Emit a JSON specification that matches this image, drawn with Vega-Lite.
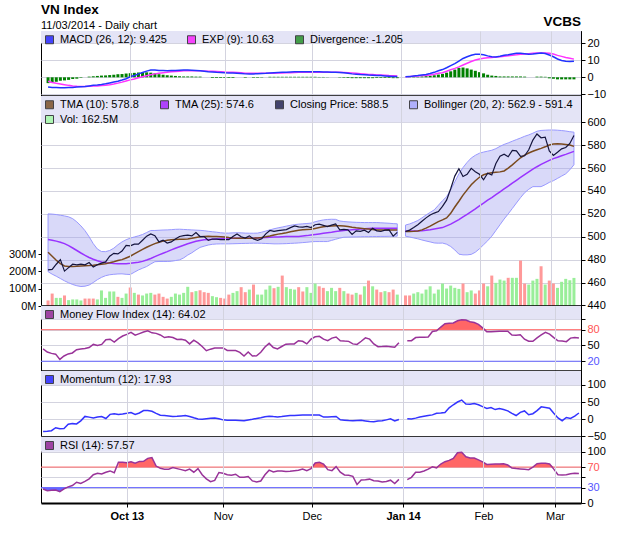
{
"$schema":"https://vega.github.io/schema/vega-lite/v6.json",
"padding":{"left":7,"top":3,"right":5,"bottom":5},
"title":{"text":"VN Index","subtitle":"11/03/2014 - Daily chart","anchor":"start","frame":"group","fontSize":13.5,"fontWeight":"bold","font":"Liberation Sans","color":"#000","subtitleFont":"Liberation Sans","subtitleFontSize":11,"subtitleColor":"#000","subtitlePadding":3,"offset":-16.5},
"spacing":0,
"bounds":"flush",
"resolve":{"scale":{"x":"independent","y":"independent","color":"independent"},"axis":{"x":"independent","y":"independent"},"legend":{"color":"independent"}},
"datasets":{"d":[
{"i":0,"c":471,"t10":486.5,"t25":497.6,"bu":520,"bl":469.5,"v":32,"up":0,"m":-5.7,"e":-2.3,"dv":-3.4,"mf":43.4,"mo":-35.6,"rs":27.3,"rsl":27.3},
{"i":1,"c":471.5,"t10":483,"t25":497,"bu":519.8,"bl":467.3,"v":72,"up":0,"m":-5.9,"e":-3.0,"dv":-3.2,"mf":37.5,"mo":-35,"rs":24,"rsl":24},
{"i":2,"c":476,"t10":479.5,"t25":496.2,"bu":519.4,"bl":465.5,"v":47,"up":1,"m":-6.0,"e":-3.5,"dv":-2.6,"mf":35,"mo":-33.5,"rs":25,"rsl":25},
{"i":3,"c":480,"t10":476.5,"t25":495.2,"bu":518.8,"bl":463.5,"v":47,"up":1,"m":-6.1,"e":-3.9,"dv":-2.0,"mf":33.5,"mo":-25,"rs":25.3,"rsl":25.3},
{"i":4,"c":470,"t10":474.5,"t25":494,"bu":518.2,"bl":461.5,"v":61,"up":0,"m":-6.1,"e":-4.3,"dv":-1.8,"mf":23.5,"mo":-28,"rs":22,"rsl":22},
{"i":5,"c":473,"t10":474,"t25":492.3,"bu":517.4,"bl":459.8,"v":34,"up":1,"m":-6.0,"e":-4.7,"dv":-1.5,"mf":30,"mo":-27,"rs":27.5,"rsl":27.5},
{"i":6,"c":476,"t10":474,"t25":490.2,"bu":515.8,"bl":458.3,"v":38,"up":1,"m":-5.9,"e":-5.0,"dv":-1.0,"mf":34,"mo":-15,"rs":31.5,"rsl":30},
{"i":7,"c":475.5,"t10":474.2,"t25":488,"bu":513,"bl":457.2,"v":38,"up":1,"m":-5.7,"e":-5.2,"dv":-0.8,"mf":35.8,"mo":-13,"rs":34},
{"i":8,"c":476,"t10":474.5,"t25":485.8,"bu":509.5,"bl":456.5,"v":32,"up":1,"m":-5.5,"e":-5.3,"dv":-0.3,"mf":42,"mo":-14,"rs":40.5},
{"i":9,"c":475.5,"t10":474.7,"t25":483.8,"bu":505.3,"bl":456.8,"v":43,"up":0,"m":-5.3,"e":-5.3,"dv":0,"mf":43.5,"mo":-5,"rs":38},
{"i":10,"c":477.5,"t10":474.9,"t25":481.9,"bu":500,"bl":457.8,"v":43,"up":0,"m":-5.0,"e":-5.2,"dv":0.4,"mf":44.3,"mo":8,"rs":42},
{"i":11,"c":473.5,"t10":475.2,"t25":480.3,"bu":494,"bl":460,"v":43,"up":0,"m":-4.7,"e":-5.1,"dv":0.6,"mf":46,"mo":6,"rs":47},
{"i":12,"c":475.5,"t10":475.6,"t25":479,"bu":489.3,"bl":462.5,"v":38,"up":1,"m":-4.5,"e":-5.0,"dv":0.8,"mf":52,"mo":3.5,"rs":55},
{"i":13,"c":477,"t10":476,"t25":478,"bu":487.1,"bl":464.5,"v":90,"up":1,"m":-4.2,"e":-4.8,"dv":1.0,"mf":50,"mo":6,"rs":58},
{"i":14,"c":478,"t10":476.5,"t25":477.4,"bu":487,"bl":466,"v":47,"up":1,"m":-3.8,"e":-4.6,"dv":1.1,"mf":52,"mo":7.5,"rs":56.5},
{"i":15,"c":483,"t10":477.3,"t25":477,"bu":488,"bl":466.8,"v":84,"up":1,"m":-3.3,"e":-4.3,"dv":1.3,"mf":61,"mo":2,"rs":60},
{"i":16,"c":485.5,"t10":478.2,"t25":476.7,"bu":490,"bl":467.2,"v":84,"up":1,"m":-2.8,"e":-3.9,"dv":1.5,"mf":62,"mo":14,"rs":62.5},
{"i":17,"c":485,"t10":479.2,"t25":476.5,"bu":493,"bl":467.5,"v":53,"up":0,"m":-2.3,"e":-3.4,"dv":1.8,"mf":56.3,"mo":16,"rs":59},
{"i":18,"c":487.5,"t10":480,"t25":476.4,"bu":495.5,"bl":467.6,"v":47,"up":1,"m":-1.6,"e":-2.8,"dv":1.9,"mf":63,"mo":13.5,"rs":79.3,"rsh":79.3},
{"i":19,"c":492.5,"t10":481.5,"t25":476.5,"bu":497.4,"bl":467.2,"v":72,"up":1,"m":-0.8,"e":-2.1,"dv":2.2,"mf":68,"mo":15,"rs":79.3,"rsh":79.3},
{"i":20,"c":492,"t10":483,"t25":476.8,"bu":498.8,"bl":467,"v":107,"up":0,"m":0.3,"e":-1.5,"dv":2.4,"mf":71,"mo":17,"rs":78.5,"rsh":78.5},
{"i":21,"c":493.5,"t10":485,"t25":477.3,"bu":499.8,"bl":469,"v":76,"up":1,"m":1.0,"e":-1.0,"dv":2.6,"mf":75,"mo":19.3,"rs":80.5,"rsh":80.5},
{"i":22,"c":493.5,"t10":487,"t25":477.7,"bu":500.8,"bl":471,"v":66,"up":0,"m":2.0,"e":-0.3,"dv":2.8,"mf":69.5,"mo":14,"rs":77.5,"rsh":77.5},
{"i":23,"c":497,"t10":489,"t25":478.5,"bu":502,"bl":472.5,"v":61,"up":1,"m":2.8,"e":0.3,"dv":2.9,"mf":72.5,"mo":18,"rs":81,"rsh":81},
{"i":24,"c":500.5,"t10":490.8,"t25":479.7,"bu":503.7,"bl":474,"v":72,"up":1,"m":3.6,"e":0.9,"dv":2.9,"mf":75.5,"mo":25,"rs":81.2,"rsh":81.2},
{"i":25,"c":502.5,"t10":492.5,"t25":481,"bu":505.5,"bl":476.2,"v":76,"up":1,"m":4.2,"e":1.5,"dv":2.7,"mf":78,"mo":25.1,"rs":87,"rsh":87},
{"i":26,"c":501,"t10":494,"t25":482.6,"bu":505.5,"bl":478.2,"v":66,"up":0,"m":4.2,"e":2.0,"dv":2.3,"mf":74,"mo":23,"rs":88.5,"rsh":88.5},
{"i":27,"c":495.5,"t10":495.2,"t25":484.2,"bu":505.7,"bl":478.4,"v":72,"up":0,"m":4.0,"e":2.4,"dv":1.8,"mf":73,"mo":17,"rs":72,"rsh":72},
{"i":28,"c":497,"t10":496.2,"t25":485.6,"bu":505.9,"bl":478.4,"v":53,"up":0,"m":3.9,"e":2.7,"dv":1.5,"mf":70,"mo":11.5,"rs":67.5,"rsh":70},
{"i":29,"c":494.5,"t10":497,"t25":487,"bu":506,"bl":478.4,"v":43,"up":0,"m":3.8,"e":2.9,"dv":1.2,"mf":65,"mo":10.5,"rs":66},
{"i":30,"c":495.5,"t10":497.4,"t25":488.5,"bu":506.2,"bl":478.6,"v":53,"up":1,"m":3.9,"e":3.2,"dv":1.0,"mf":66.5,"mo":9.5,"rs":66},
{"i":31,"c":498,"t10":497.6,"t25":490,"bu":506.5,"bl":479.2,"v":72,"up":1,"m":4.0,"e":3.4,"dv":0.8,"mf":65,"mo":8,"rs":69},
{"i":32,"c":500.2,"t10":497.8,"t25":491.3,"bu":506.6,"bl":479.8,"v":66,"up":1,"m":4.1,"e":3.6,"dv":0.6,"mf":61.5,"mo":8.5,"rs":67},
{"i":33,"c":501,"t10":497.9,"t25":492.6,"bu":506.4,"bl":481.5,"v":76,"up":1,"m":4.2,"e":3.8,"dv":0.5,"mf":62,"mo":9.5,"rs":65},
{"i":34,"c":501.5,"t10":498.1,"t25":493.9,"bu":506.2,"bl":484,"v":111,"up":1,"m":4.2,"e":3.8,"dv":0.5,"mf":60,"mo":10.5,"rs":63},
{"i":35,"c":500.8,"t10":498.7,"t25":495,"bu":506,"bl":486,"v":80,"up":0,"m":4.1,"e":3.8,"dv":0.5,"mf":53,"mo":8,"rs":66},
{"i":36,"c":503.7,"t10":499.4,"t25":496,"bu":505.8,"bl":488.5,"v":86,"up":1,"m":4.0,"e":3.8,"dv":0.4,"mf":60,"mo":4,"rs":60},
{"i":37,"c":500.2,"t10":500,"t25":496.8,"bu":505.6,"bl":490.7,"v":91,"up":0,"m":3.8,"e":3.8,"dv":0.4,"mf":55,"mo":0.5,"rs":67},
{"i":38,"c":500.2,"t10":500.3,"t25":497.3,"bu":505.3,"bl":491.8,"v":80,"up":0,"m":3.6,"e":3.7,"dv":0,"mf":48,"mo":0,"rs":55},
{"i":39,"c":496.8,"t10":500.4,"t25":497.6,"bu":504.8,"bl":492.8,"v":76,"up":0,"m":3.3,"e":3.6,"dv":0,"mf":40,"mo":1.5,"rs":47},
{"i":40,"c":498,"t10":500.3,"t25":497.8,"bu":504.4,"bl":493.4,"v":57,"up":1,"m":3.1,"e":3.5,"dv":-0.4,"mf":43,"mo":3,"rs":41.5},
{"i":41,"c":498,"t10":500.2,"t25":498,"bu":504,"bl":493.7,"v":51,"up":1,"m":2.9,"e":3.4,"dv":-0.4,"mf":45.3,"mo":3.5,"rs":44},
{"i":42,"c":497.5,"t10":500,"t25":498.2,"bu":503.5,"bl":493.8,"v":47,"up":0,"m":2.8,"e":3.3,"dv":-0.4,"mf":45.3,"mo":1,"rs":59.5},
{"i":43,"c":497.5,"t10":499.7,"t25":498.4,"bu":503.2,"bl":493.8,"v":43,"up":0,"m":2.6,"e":3.1,"dv":-0.4,"mf":45.3,"mo":-2,"rs":58},
{"i":44,"c":497.5,"t10":499.3,"t25":498.6,"bu":503.2,"bl":493.8,"v":66,"up":0,"m":2.5,"e":3.0,"dv":-0.4,"mf":40.5,"mo":-2.9,"rs":55},
{"i":45,"c":500.2,"t10":499,"t25":498.8,"bu":503.4,"bl":493.9,"v":76,"up":1,"m":2.5,"e":2.9,"dv":-0.4,"mf":40.3,"mo":-2.9,"rs":54},
{"i":46,"c":502.5,"t10":498.8,"t25":498.8,"bu":503.5,"bl":494,"v":86,"up":1,"m":2.4,"e":2.8,"dv":0,"mf":40.3,"mo":-3,"rs":56},
{"i":47,"c":500,"t10":498.8,"t25":498.8,"bu":503.4,"bl":494.1,"v":109,"up":0,"m":2.2,"e":2.6,"dv":0,"mf":37,"mo":-4,"rs":50},
{"i":48,"c":498.8,"t10":498.8,"t25":498.8,"bu":503.2,"bl":494.2,"v":80,"up":0,"m":2.0,"e":2.4,"dv":-0.3,"mf":30,"mo":-4.8,"rs":50},
{"i":49,"c":500.8,"t10":498.8,"t25":498.8,"bu":503.1,"bl":494.3,"v":95,"up":1,"m":1.9,"e":2.3,"dv":0,"mf":37.5,"mo":-2.5,"rs":51.5},
{"i":50,"c":498,"t10":498.8,"t25":498.8,"bu":503.1,"bl":494.4,"v":124,"up":0,"m":2.0,"e":2.3,"dv":-0.3,"mf":30,"mo":-0.5,"rs":43},
{"i":51,"c":496.8,"t10":499,"t25":499,"bu":503.2,"bl":494.4,"v":66,"up":1,"m":2.1,"e":2.3,"dv":-0.3,"mf":30.5,"mo":2,"rs":41},
{"i":52,"c":498.3,"t10":499.4,"t25":499.2,"bu":504,"bl":494.3,"v":66,"up":1,"m":2.2,"e":2.3,"dv":-0.2,"mf":37,"mo":4,"rs":42.8},
{"i":53,"c":502.5,"t10":500,"t25":499.3,"bu":505,"bl":494.1,"v":95,"up":1,"m":2.3,"e":2.3,"dv":0,"mf":47,"mo":7,"rs":55},
{"i":54,"c":505.5,"t10":500.7,"t25":499.5,"bu":506,"bl":494,"v":118,"up":1,"m":2.5,"e":2.4,"dv":0.3,"mf":54,"mo":8.7,"rs":64},
{"i":55,"c":504.8,"t10":501.5,"t25":499.7,"bu":507,"bl":493.8,"v":103,"up":0,"m":2.7,"e":2.4,"dv":0.3,"mf":46,"mo":7.5,"rs":60.5},
{"i":56,"c":505.3,"t10":502.3,"t25":499.9,"bu":507.8,"bl":493.8,"v":111,"up":1,"m":2.8,"e":2.5,"dv":0.3,"mf":43.5,"mo":6.7,"rs":62.5},
{"i":57,"c":505.8,"t10":502.9,"t25":500.1,"bu":508.5,"bl":493.9,"v":176,"up":0,"m":2.9,"e":2.5,"dv":0.3,"mf":48,"mo":7.5,"rs":62.5},
{"i":58,"c":506.3,"t10":503.6,"t25":500.2,"bu":509.3,"bl":494,"v":109,"up":1,"m":3.0,"e":2.6,"dv":0.3,"mf":52.5,"mo":9,"rs":61.5},
{"i":59,"c":508,"t10":504.4,"t25":500.2,"bu":510,"bl":494.2,"v":99,"up":1,"m":3.1,"e":2.7,"dv":0.3,"mf":53,"mo":10.5,"rs":62},
{"i":60,"c":509.5,"t10":505.1,"t25":500.2,"bu":510.6,"bl":494.4,"v":95,"up":1,"m":3.2,"e":2.8,"dv":0.3,"mf":53,"mo":10.6,"rs":63},
{"i":61,"c":508.7,"t10":505.7,"t25":500.2,"bu":511,"bl":494.6,"v":109,"up":0,"m":3.2,"e":2.9,"dv":0.3,"mf":59,"mo":11.5,"rs":64},
{"i":62,"c":508.5,"t10":506.1,"t25":500.6,"bu":511.3,"bl":494.9,"v":84,"up":0,"m":3.2,"e":2.9,"dv":0.3,"mf":58,"mo":12.5,"rs":66.3},
{"i":63,"c":509,"t10":506.4,"t25":501,"bu":511.6,"bl":495.2,"v":109,"up":1,"m":3.2,"e":2.9,"dv":0.3,"mf":53,"mo":12.5,"rs":63},
{"i":64,"c":508,"t10":506.6,"t25":501.5,"bu":511.9,"bl":495.6,"v":76,"up":1,"m":3.2,"e":2.9,"dv":0.3,"mf":62,"mo":12.5,"rs":67,"rsh":70},
{"i":65,"c":510.5,"t10":507.3,"t25":502,"bu":513.1,"bl":495.8,"v":130,"up":1,"m":3.2,"e":3.0,"dv":0.3,"mf":66.5,"mo":12.5,"rs":78,"rsh":78},
{"i":66,"c":511,"t10":508,"t25":502.5,"bu":514,"bl":495.8,"v":114,"up":0,"m":3.2,"e":3.0,"dv":0.2,"mf":67.5,"mo":12,"rs":79.5,"rsh":79.5},
{"i":67,"c":510,"t10":508.7,"t25":503,"bu":514.7,"bl":495.8,"v":105,"up":0,"m":3.1,"e":3.0,"dv":0.2,"mf":62,"mo":6,"rs":76,"rsh":76},
{"i":68,"c":508.9,"t10":509.2,"t25":503.5,"bu":515.1,"bl":495.8,"v":86,"up":1,"m":3.1,"e":3.0,"dv":0.1,"mf":59,"mo":6.5,"rs":65,"rsh":70},
{"i":69,"c":510.2,"t10":509.5,"t25":504,"bu":515.3,"bl":496.8,"v":105,"up":1,"m":3.0,"e":3.0,"dv":0,"mf":64,"mo":7,"rs":63},
{"i":70,"c":511.2,"t10":509.6,"t25":504.6,"bu":515.2,"bl":497.8,"v":86,"up":1,"m":3.0,"e":3.0,"dv":0,"mf":66,"mo":7.7,"rs":70.8},
{"i":71,"c":506,"t10":509.6,"t25":505.1,"bu":513.8,"bl":498.8,"v":105,"up":0,"m":2.8,"e":2.9,"dv":-0.2,"mf":59,"mo":-2,"rs":60},
{"i":72,"c":506.4,"t10":509.5,"t25":505.4,"bu":513.3,"bl":499.6,"v":86,"up":1,"m":2.6,"e":2.8,"dv":-0.3,"mf":58.3,"mo":-2.9,"rs":54.6},
{"i":73,"c":506,"t10":509,"t25":505.8,"bu":513,"bl":499.7,"v":72,"up":0,"m":2.3,"e":2.7,"dv":-0.4,"mf":57.8,"mo":-4,"rs":54},
{"i":74,"c":502,"t10":508.4,"t25":506.1,"bu":512.8,"bl":499.8,"v":66,"up":0,"m":2.0,"e":2.5,"dv":-0.5,"mf":53,"mo":-4.8,"rs":52},
{"i":75,"c":505.2,"t10":507.9,"t25":506.4,"bu":512.6,"bl":499.9,"v":76,"up":1,"m":1.8,"e":2.3,"dv":-0.5,"mf":52,"mo":-4,"rs":36},
{"i":76,"c":504.8,"t10":507.5,"t25":506.7,"bu":512.5,"bl":500,"v":66,"up":0,"m":1.6,"e":2.1,"dv":-0.5,"mf":58,"mo":-3,"rs":44.8},
{"i":77,"c":505.8,"t10":507.1,"t25":507,"bu":512.4,"bl":500.1,"v":114,"up":1,"m":1.5,"e":1.9,"dv":-0.5,"mf":64.5,"mo":-5,"rs":45.5},
{"i":78,"c":503.8,"t10":506.7,"t25":507.2,"bu":512.4,"bl":500.1,"v":147,"up":0,"m":1.3,"e":1.7,"dv":-0.5,"mf":62,"mo":-7,"rs":46.5},
{"i":79,"c":507.5,"t10":506.3,"t25":507.4,"bu":512.4,"bl":500.2,"v":114,"up":1,"m":1.2,"e":1.6,"dv":-0.5,"mf":53,"mo":-7.5,"rs":43.5},
{"i":80,"c":505.2,"t10":506,"t25":507.5,"bu":512.4,"bl":500.2,"v":95,"up":0,"m":1.1,"e":1.4,"dv":-0.4,"mf":47.7,"mo":-5.5,"rs":43},
{"i":81,"c":504.6,"t10":506,"t25":507.5,"bu":512.2,"bl":500.3,"v":80,"up":0,"m":1.0,"e":1.3,"dv":-0.4,"mf":48,"mo":-4.8,"rs":41},
{"i":82,"c":505.8,"t10":506,"t25":507.5,"bu":512,"bl":500.3,"v":86,"up":1,"m":0.8,"e":1.2,"dv":-0.4,"mf":48.5,"mo":-2,"rs":42},
{"i":83,"c":506,"t10":506,"t25":507.5,"bu":511.8,"bl":500.4,"v":80,"up":0,"m":0.6,"e":1.0,"dv":-0.4,"mf":47.5,"mo":1,"rs":44.5},
{"i":84,"c":500.5,"t10":506,"t25":507.5,"bu":511.5,"bl":500.5,"v":95,"up":0,"m":0.4,"e":0.9,"dv":-0.5,"mf":46.5,"mo":-5,"rs":38},
{"i":85,"c":503.8,"t10":506,"t25":507.4,"bu":511.3,"bl":500.5,"v":66,"up":1,"m":0.4,"e":0.8,"dv":-0.5,"mf":55,"mo":-1,"rs":46},
{"i":86,"c":null,"t10":null,"t25":null,"bu":null,"bl":null,"v":null,"up":null,"m":null,"e":null,"dv":null,"mf":null,"mo":null,"rs":null},
{"i":87,"c":504.6,"t10":504.6,"t25":505,"bu":510.2,"bl":500.5,"v":61,"up":0,"m":0.3,"e":0.3,"dv":0,"mf":59.1,"mo":1,"rs":45.5},
{"i":88,"c":505.8,"t10":504.6,"t25":505,"bu":511.2,"bl":499.8,"v":61,"up":0,"m":0.4,"e":0.4,"dv":0.1,"mf":59.1,"mo":0.5,"rs":50},
{"i":89,"c":508,"t10":504.8,"t25":505,"bu":512.6,"bl":499,"v":72,"up":1,"m":0.7,"e":0.6,"dv":0.2,"mf":65,"mo":3,"rs":60},
{"i":90,"c":510.5,"t10":505.1,"t25":505.1,"bu":514.2,"bl":498.2,"v":80,"up":1,"m":1.0,"e":0.8,"dv":0.3,"mf":65.6,"mo":6.5,"rs":60},
{"i":91,"c":513.5,"t10":506,"t25":505.3,"bu":516.5,"bl":497.2,"v":72,"up":1,"m":1.4,"e":1.0,"dv":0.5,"mf":65.6,"mo":8.5,"rs":62.5},
{"i":92,"c":516.5,"t10":507.6,"t25":505.7,"bu":519,"bl":496.3,"v":95,"up":1,"m":1.7,"e":1.1,"dv":0.7,"mf":66,"mo":10.6,"rs":66},
{"i":93,"c":519,"t10":509.3,"t25":506.2,"bu":521.3,"bl":495.5,"v":114,"up":1,"m":2.2,"e":1.4,"dv":0.9,"mf":76.5,"mo":12.5,"rs":70.5},
{"i":94,"c":520.7,"t10":511.3,"t25":506.8,"bu":523.5,"bl":494.6,"v":72,"up":1,"m":2.9,"e":1.8,"dv":1.2,"mf":78,"mo":17,"rs":68.5,"mfh":80,"rsh":70},
{"i":95,"c":522,"t10":513.2,"t25":507.4,"bu":527.5,"bl":494.4,"v":95,"up":1,"m":3.8,"e":2.3,"dv":1.6,"mf":85,"mo":18,"rs":76,"mfh":85,"rsh":76},
{"i":96,"c":526.5,"t10":514.7,"t25":508,"bu":531.5,"bl":494.5,"v":130,"up":1,"m":4.5,"e":2.7,"dv":2.0,"mf":91.5,"mo":19.5,"rs":80.5,"mfh":91.5,"rsh":80.5},
{"i":97,"c":532,"t10":516.5,"t25":509.5,"bu":535,"bl":493.5,"v":101,"up":1,"m":5.6,"e":3.5,"dv":2.7,"mf":92.3,"mo":33,"rs":83,"mfh":92.3,"rsh":83},
{"i":98,"c":542,"t10":520.5,"t25":511,"bu":541,"bl":491.5,"v":118,"up":1,"m":6.8,"e":4.4,"dv":3.5,"mf":92.7,"mo":42,"rs":87,"mfh":92.7,"rsh":87},
{"i":99,"c":553,"t10":526,"t25":513,"bu":548,"bl":488.5,"v":105,"up":1,"m":8.0,"e":5.2,"dv":4.5,"mf":97,"mo":50,"rs":98,"mfh":97,"rsh":98},
{"i":100,"c":559.5,"t10":531,"t25":515,"bu":555,"bl":484.8,"v":99,"up":1,"m":9.5,"e":6.1,"dv":5.5,"mf":99,"mo":55.8,"rs":99,"mfh":99,"rsh":99},
{"i":101,"c":552.7,"t10":536.4,"t25":517.3,"bu":560.5,"bl":484.2,"v":130,"up":0,"m":11.0,"e":7.2,"dv":5.7,"mf":98.5,"mo":44,"rs":90,"mfh":98.5,"rsh":90},
{"i":102,"c":554.5,"t10":541,"t25":519.6,"bu":565,"bl":484.2,"v":80,"up":1,"m":12.0,"e":8.2,"dv":5.2,"mf":95,"mo":43.4,"rs":87.6,"mfh":95,"rsh":87.6},
{"i":103,"c":559.8,"t10":545.5,"t25":522,"bu":568.8,"bl":484.6,"v":90,"up":1,"m":12.9,"e":9.2,"dv":4.5,"mf":93.5,"mo":45.5,"rs":87.6,"mfh":93.5,"rsh":87.6},
{"i":104,"c":556.9,"t10":549,"t25":524.4,"bu":571.2,"bl":486.5,"v":72,"up":0,"m":13.5,"e":10.1,"dv":3.8,"mf":90,"mo":42,"rs":84,"mfh":90,"rsh":84},
{"i":105,"c":554.6,"t10":552,"t25":527,"bu":573,"bl":489.5,"v":90,"up":0,"m":13.4,"e":10.7,"dv":3.0,"mf":83.5,"mo":36.6,"rs":80,"mfh":83.5,"rsh":80},
{"i":106,"c":549.8,"t10":554.2,"t25":529.4,"bu":574,"bl":493,"v":130,"up":0,"m":13.1,"e":11.1,"dv":2.3,"mf":76,"mo":31,"rs":75,"mfh":80,"rsh":75},
{"i":107,"c":555.5,"t10":555.2,"t25":532,"bu":574.8,"bl":496.5,"v":114,"up":1,"m":12.5,"e":11.4,"dv":1.5,"mf":76,"mo":34,"rs":75.5,"rsh":75.5},
{"i":108,"c":554,"t10":555.9,"t25":534.3,"bu":575.6,"bl":500.5,"v":176,"up":0,"m":12.0,"e":11.6,"dv":1.0,"mf":76.5,"mo":28,"rs":76,"rsh":76},
{"i":109,"c":564,"t10":556.3,"t25":536.8,"bu":577,"bl":505.5,"v":134,"up":1,"m":11.9,"e":11.8,"dv":0.8,"mf":77,"mo":31,"rs":76,"rsh":76},
{"i":110,"c":570.3,"t10":556.7,"t25":539.3,"bu":579,"bl":510.5,"v":153,"up":1,"m":12.3,"e":12.0,"dv":0.5,"mf":77,"mo":28,"rs":76.5,"rsh":76.5},
{"i":111,"c":572.2,"t10":557.5,"t25":541.8,"bu":580.7,"bl":515.5,"v":147,"up":1,"m":12.8,"e":12.3,"dv":0.5,"mf":77,"mo":24.1,"rs":74,"rsh":74},
{"i":112,"c":569.9,"t10":560,"t25":544.3,"bu":582,"bl":520,"v":163,"up":0,"m":13.1,"e":12.6,"dv":0.5,"mf":70,"mo":17,"rs":68,"rsh":70},
{"i":113,"c":575.5,"t10":562.8,"t25":546.8,"bu":583.5,"bl":524.7,"v":163,"up":1,"m":13.6,"e":12.9,"dv":0.5,"mf":69.5,"mo":10.6,"rs":67},
{"i":114,"c":575,"t10":566,"t25":549.3,"bu":584.9,"bl":529.5,"v":163,"up":1,"m":14.0,"e":13.1,"dv":0.5,"mf":70.5,"mo":20,"rs":66.3},
{"i":115,"c":570.3,"t10":569,"t25":551.8,"bu":586.3,"bl":534.2,"v":263,"up":0,"m":14.0,"e":13.4,"dv":0.5,"mf":62,"mo":24,"rs":65.7},
{"i":116,"c":570.8,"t10":571.3,"t25":554.3,"bu":587.8,"bl":538.5,"v":130,"up":0,"m":13.8,"e":13.6,"dv":0.4,"mf":58,"mo":13,"rs":65},
{"i":117,"c":576,"t10":573.2,"t25":556.7,"bu":589,"bl":541.5,"v":124,"up":1,"m":13.5,"e":13.8,"dv":0,"mf":58,"mo":16,"rs":70,"rsh":70},
{"i":118,"c":584.5,"t10":574.7,"t25":559,"bu":590.5,"bl":543.8,"v":147,"up":1,"m":13.6,"e":14.0,"dv":0,"mf":64.5,"mo":25,"rs":76.5,"rsh":76.5},
{"i":119,"c":589.8,"t10":576,"t25":561.2,"bu":592.2,"bl":543.8,"v":157,"up":1,"m":13.9,"e":14.1,"dv":0.4,"mf":70,"mo":36,"rs":77.3,"rsh":77.3},
{"i":120,"c":586.5,"t10":577.2,"t25":563.2,"bu":592.9,"bl":543.8,"v":230,"up":0,"m":14.1,"e":14.1,"dv":0.4,"mf":75,"mo":34,"rs":77.3,"rsh":77.3},
{"i":121,"c":587,"t10":578.6,"t25":565,"bu":593.1,"bl":545.5,"v":124,"up":1,"m":13.9,"e":14.1,"dv":0.3,"mf":71.5,"mo":32,"rs":76,"rsh":76},
{"i":122,"c":575,"t10":580.2,"t25":566.7,"bu":593.3,"bl":547.5,"v":147,"up":0,"m":13.0,"e":14.0,"dv":-0.6,"mf":65,"mo":17,"rs":66,"rsh":70},
{"i":123,"c":571,"t10":581,"t25":568.3,"bu":593.3,"bl":549,"v":130,"up":0,"m":12.0,"e":13.6,"dv":-0.9,"mf":59,"mo":3.5,"rs":55},
{"i":124,"c":573.8,"t10":581.2,"t25":569.5,"bu":593.1,"bl":551,"v":105,"up":1,"m":10.7,"e":12.8,"dv":-1.2,"mf":58.5,"mo":-4.5,"rs":54.6},
{"i":125,"c":576.8,"t10":581,"t25":570.8,"bu":592.8,"bl":553,"v":140,"up":1,"m":9.8,"e":12.2,"dv":-1.2,"mf":57.3,"mo":4.8,"rs":55},
{"i":126,"c":578,"t10":580.7,"t25":572,"bu":592.4,"bl":555,"v":157,"up":1,"m":9.3,"e":11.6,"dv":-1.2,"mf":64,"mo":2,"rs":57},
{"i":127,"c":581.5,"t10":580.2,"t25":573.3,"bu":591.8,"bl":558.5,"v":149,"up":1,"m":9.2,"e":11.1,"dv":-1.2,"mf":65.2,"mo":9,"rs":57.8},
{"i":128,"c":588.5,"t10":579,"t25":574.6,"bu":591.4,"bl":562.9,"v":162.5,"up":1,"m":9.4,"e":10.6,"dv":-1.2,"mf":64,"mo":18,"rs":57.6}
]},
"vconcat":[
{
 "width":540,"height":65,"data":{"name":"d"},
 "title":{"text":"VCBS","anchor":"end","frame":"group","fontSize":13.5,"fontWeight":"bold","font":"Liberation Sans","color":"#000","offset":3},
 "layer":[
  {"data":{"values":[{}]},"mark":{"type":"rect","color":"#e4e4f6"},"encoding":{"y":{"datum":20,"type":"quantitative","scale":{"domain":[-10.9,27],"nice":false,"zero":false},"axis":{"orient":"right","title":null,"values":[-10,0,10,20],"tickCount":50,"grid":true,"tickSize":4,"labelPadding":2,"labelBound":false}},"y2":{"datum":27}}},
  {"mark":{"type":"bar","color":"#008000","size":3},"encoding":{"x":{"field":"i","type":"quantitative","title":null,"scale":{"domain":[-0.5,128.5],"nice":false,"zero":false},"axis":{"values":[20,43,64.2,86,105.2,122.3],"tickCount":50,"labels":false,"ticks":false,"grid":true,"domainWidth":2.5,"zindex":1}},"y":{"field":"dv","type":"quantitative","title":null},"y2":{"datum":0}}},
  {"mark":{"type":"line","color":"#ff33ff","strokeWidth":1.5},"encoding":{"x":{"field":"i","type":"quantitative","title":null},"y":{"field":"e","type":"quantitative","title":null}}},
  {"mark":{"type":"line","color":"#2233ff","strokeWidth":1.5},"encoding":{"x":{"field":"i","type":"quantitative","title":null},"y":{"field":"m","type":"quantitative","title":null}}},
  {"data":{"values":[]},"mark":"square","encoding":{"color":{"field":"s","type":"nominal","scale":{"domain":["MACD (26, 12): 9.425","EXP (9): 10.63","Divergence: -1.205"],"range":["#0000ff","#ff00ff","#008000"]},"legend":{"title":null}}}}
 ]
},
{
 "width":540,"height":210,"data":{"name":"d"},
 "layer":[
  {"mark":{"type":"bar","size":3},"encoding":{"x":{"field":"i","type":"quantitative","title":null,"scale":{"domain":[-0.5,128.5],"nice":false,"zero":false},"axis":{"values":[20,43,64.2,86,105.2,122.3],"tickCount":50,"labels":false,"ticks":false,"grid":true,"domainWidth":2.5,"zindex":1}},"y":{"field":"v","type":"quantitative","title":null,"scale":{"domain":[0,1215],"nice":false,"zero":false},"axis":{"orient":"left","values":[0,100,200,300],"tickCount":50,"labelExpr":"datum.value + 'M'","grid":false,"domain":false,"tickSize":3,"labelPadding":2}},"color":{"condition":{"test":"datum.up == 1","value":"#99ee99"},"value":"#ff9999"}}},
  {"layer":[
   {"data":{"values":[{}]},"mark":{"type":"rect","color":"#e4e4f6"},"encoding":{"y":{"datum":600,"type":"quantitative","scale":{"domain":[439.5,623],"nice":false,"zero":false},"axis":{"orient":"right","title":null,"values":[440,460,480,500,520,540,560,580,600],"tickCount":50,"grid":true,"tickSize":4,"labelPadding":2}},"y2":{"datum":623}}},
   {"mark":{"type":"area","fill":"#9a9af0","fillOpacity":0.38,"stroke":"#9999ff","strokeWidth":1},"encoding":{"x":{"field":"i","type":"quantitative","title":null},"y":{"field":"bu","type":"quantitative","title":null},"y2":{"field":"bl"}}},
   {"mark":{"type":"line","color":"#9933ff","strokeWidth":1.5},"encoding":{"x":{"field":"i","type":"quantitative","title":null},"y":{"field":"t25","type":"quantitative","title":null}}},
   {"mark":{"type":"line","color":"#7a4a1e","strokeWidth":1.5},"encoding":{"x":{"field":"i","type":"quantitative","title":null},"y":{"field":"t10","type":"quantitative","title":null}}},
   {"mark":{"type":"line","color":"#14143c","strokeWidth":1.2},"encoding":{"x":{"field":"i","type":"quantitative","title":null},"y":{"field":"c","type":"quantitative","title":null}}},
   {"data":{"values":[]},"mark":"square","encoding":{"color":{"field":"s","type":"nominal","scale":{"domain":["TMA (10): 578.8","TMA (25): 574.6","Closing Price: 588.5","Bollinger (20, 2): 562.9 - 591.4","Vol: 162.5M"],"range":["#663300","#9900ff","#000033","#9999ff","#99ff99"]},"legend":{"title":null,"columns":4}}}}
  ]}
 ],
 "resolve":{"scale":{"y":"independent"},"axis":{"y":"independent"}}
},
{
 "width":540,"height":65,"data":{"name":"d"},
 "layer":[
  {"data":{"values":[{}]},"mark":{"type":"rect","color":"#e4e4f6"},"encoding":{"y":{"datum":100,"type":"quantitative","scale":{"domain":[1.5,125],"nice":false,"zero":false},"axis":{"orient":"right","title":null,"values":[20,50,80,100],"tickCount":50,"labelExpr":"datum.value == 100 ? '' : datum.label","labelColor":{"condition":[{"test":"datum.value == 80","value":"#ff5555"},{"test":"datum.value == 20","value":"#5555ff"}],"value":"#000"},"grid":true,"tickSize":4,"labelPadding":2}},"y2":{"datum":125}}},
  {"mark":{"type":"area","color":"#ff6666"},"encoding":{"x":{"field":"i","type":"quantitative","title":null,"scale":{"domain":[-0.5,128.5],"nice":false,"zero":false},"axis":{"values":[20,43,64.2,86,105.2,122.3],"tickCount":50,"labels":false,"ticks":false,"grid":true,"domainWidth":2.5,"zindex":1}},"y":{"field":"mfh","type":"quantitative","title":null},"y2":{"datum":80}}},
  {"data":{"values":[{}]},"mark":{"type":"rule","color":"#ff6666","strokeWidth":1},"encoding":{"y":{"datum":80,"type":"quantitative"}}},
  {"data":{"values":[{}]},"mark":{"type":"rule","color":"#6666ff","strokeWidth":1},"encoding":{"y":{"datum":20,"type":"quantitative"}}},
  {"mark":{"type":"line","color":"#993399","strokeWidth":1.5},"encoding":{"x":{"field":"i","type":"quantitative","title":null},"y":{"field":"mf","type":"quantitative","title":null}}},
  {"data":{"values":[]},"mark":"square","encoding":{"color":{"field":"s","type":"nominal","scale":{"domain":["Money Flow Index (14): 64.02"],"range":["#800080"]},"legend":{"title":null}}}}
 ]
},
{
 "width":540,"height":66,"data":{"name":"d"},
 "layer":[
  {"data":{"values":[{}]},"mark":{"type":"rect","color":"#e4e4f6"},"encoding":{"y":{"datum":100,"type":"quantitative","scale":{"domain":[-52,140.5],"nice":false,"zero":false},"axis":{"orient":"right","title":null,"values":[-50,0,50,100],"tickCount":50,"grid":true,"tickSize":4,"labelPadding":2}},"y2":{"datum":140.5}}},
  {"mark":{"type":"line","color":"#3333ff","strokeWidth":1.5},"encoding":{"x":{"field":"i","type":"quantitative","title":null,"scale":{"domain":[-0.5,128.5],"nice":false,"zero":false},"axis":{"values":[20,43,64.2,86,105.2,122.3],"tickCount":50,"labels":false,"ticks":false,"grid":true,"domainWidth":2.5,"zindex":1}},"y":{"field":"mo","type":"quantitative","title":null}}},
  {"data":{"values":[]},"mark":"square","encoding":{"color":{"field":"s","type":"nominal","scale":{"domain":["Momentum (12): 17.93"],"range":["#0000ff"]},"legend":{"title":null}}}}
 ]
},
{
 "width":540,"height":66,"data":{"name":"d"},
 "layer":[
  {"data":{"values":[{}]},"mark":{"type":"rect","color":"#e4e4f6"},"encoding":{"y":{"datum":100,"type":"quantitative","scale":{"domain":[0,128.6],"nice":false,"zero":false},"axis":{"orient":"right","title":null,"values":[0,30,50,70,100],"tickCount":50,"labelExpr":"datum.value == 50 ? '' : datum.label","labelColor":{"condition":[{"test":"datum.value == 70","value":"#ff5555"},{"test":"datum.value == 30","value":"#5555ff"}],"value":"#000"},"grid":true,"tickSize":4,"labelPadding":2}},"y2":{"datum":128.6}}},
  {"mark":{"type":"area","color":"#ff6666"},"encoding":{"x":{"field":"i","type":"quantitative","title":null,"scale":{"domain":[-0.5,128.5],"nice":false,"zero":false},"axis":{"values":[20,43,64.2,86,105.2,122.3],"tickCount":50,"labelExpr":"['Oct 13','Nov','Dec','Jan 14','Feb','Mar'][indexof([20,43,64.2,86,105.2,122.3], datum.value)]","labelFontWeight":{"condition":{"test":"datum.value == 20 || datum.value == 86","value":"bold"},"value":"normal"},"labelFlush":false,"ticks":true,"tickSize":4,"grid":true,"domainWidth":2,"labelPadding":3,"zindex":1}},"y":{"field":"rsh","type":"quantitative","title":null},"y2":{"datum":70}}},
  {"mark":{"type":"area","color":"#6666ff"},"encoding":{"x":{"field":"i","type":"quantitative","title":null},"y":{"field":"rsl","type":"quantitative","title":null},"y2":{"datum":30}}},
  {"data":{"values":[{}]},"mark":{"type":"rule","color":"#ff6666","strokeWidth":1},"encoding":{"y":{"datum":70,"type":"quantitative"}}},
  {"data":{"values":[{}]},"mark":{"type":"rule","color":"#6666ff","strokeWidth":1},"encoding":{"y":{"datum":30,"type":"quantitative"}}},
  {"mark":{"type":"line","color":"#993399","strokeWidth":1.5},"encoding":{"x":{"field":"i","type":"quantitative","title":null},"y":{"field":"rs","type":"quantitative","title":null}}},
  {"data":{"values":[]},"mark":"square","encoding":{"color":{"field":"s","type":"nominal","scale":{"domain":["RSI (14): 57.57"],"range":["#800080"]},"legend":{"title":null}}}}
 ]
}
],
"config":{
 "font":"Liberation Sans",
 "view":{"fill":"#ffffee","stroke":"#000000","strokeWidth":1},
 "axis":{"labelFont":"Liberation Sans","labelFontSize":11,"labelColor":"#000","labelOverlap":false,"gridColor":"#d3d3df","gridWidth":1,"domainColor":"#000","tickColor":"#000"},
 "legend":{"orient":"top-left","direction":"horizontal","offset":3,"padding":0,"zindex":2,"symbolType":"square","symbolSize":64,"symbolStrokeColor":"#000","symbolStrokeWidth":1,"labelFont":"Liberation Sans","labelFontSize":11,"labelColor":"#000","columnPadding":18,"rowPadding":2,"labelOffset":5,"labelLimit":400}
}
}
